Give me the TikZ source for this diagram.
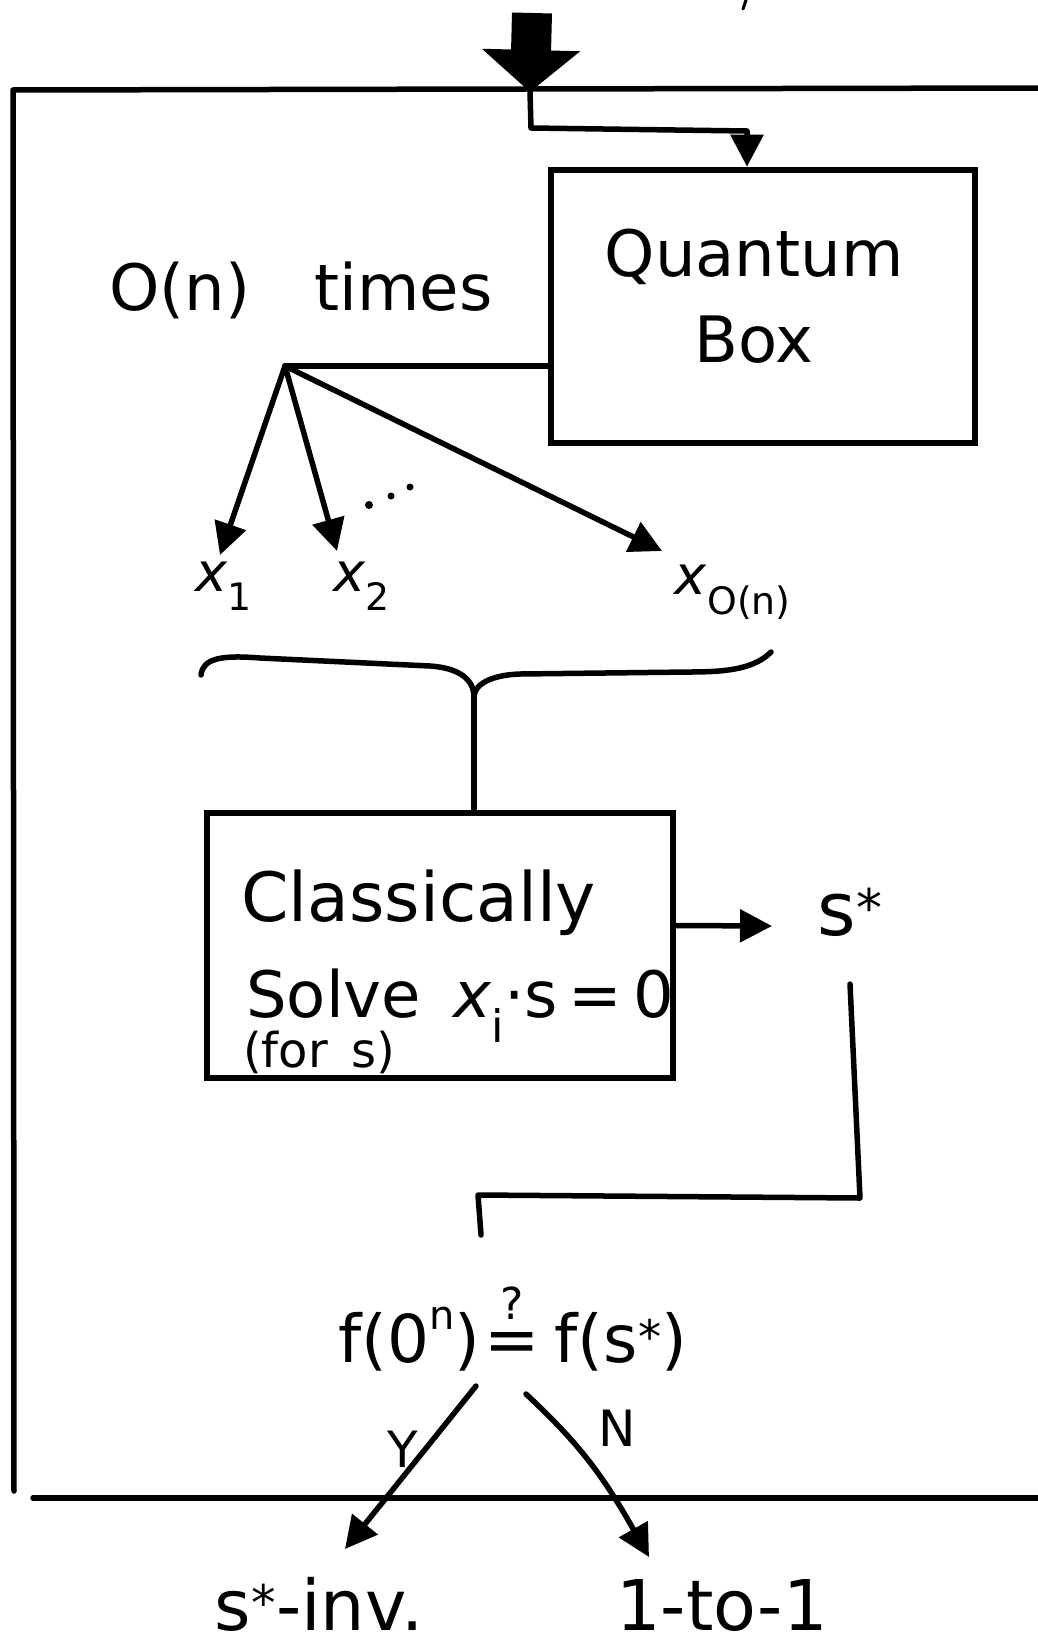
\documentclass[tikz,border=0pt]{standalone}
\usepackage{fontspec}
\setmainfont{DejaVu Sans}
\usetikzlibrary{arrows.meta}
\newcommand{\fsz}[1]{\fontsize{#1}{#1}\selectfont}
\newcommand{\qeq}{\makebox[0.62em]{=}\llap{\makebox[0.62em]{\raisebox{0.66em}{\fsz{44}?}}}}
\newcommand{\supn}{\raisebox{0.5em}{\fsz{40}n}}
\begin{document}
\begin{tikzpicture}[x=1pt,y=-1pt,
  ln/.style={line width=5.5pt, line cap=round, line join=round},
  arr/.style={ln, -{Triangle[length=32pt,width=32pt]}},
  boxx/.style={draw, line width=6.5pt, inner sep=0pt},
  lbl/.style={inner sep=0pt}]
\useasboundingbox (0,0) rectangle (1037,1640);
% incoming big arrow and frame
\coordinate (in) at (532,13);
\coordinate (junc) at (530,92);
\draw[line width=40pt, -{Triangle[length=42pt,width=96pt]}] (in) -- (junc);
\coordinate (ftr) at (1040,88);
\coordinate (ftl) at (13,90);
\coordinate (fbl) at (14,1491);
\draw[ln] (ftr) -- (ftl) -- (fbl);
\coordinate (bl) at (33,1498);
\coordinate (br) at (1040,1498);
\draw[ln] (bl) -- (br);
\draw[line width=3pt, line cap=round] (746,0) -- (743,9);
% quantum box
\node[boxx, minimum width=424pt, minimum height=273pt] (qbox) at (763,306.5) {};
\node[lbl, font=\fontsize{64}{86}\selectfont, align=center] (qtxt) at (754,296) {Quantum\\Box};
\draw[arr] (junc) -- (531,128) -- (747,131) -- (qbox.north -| 747,0);
% O(n) times
\node[lbl, font=\fsz{64}] (times) at (301,290) {O(n)\quad times};
% fan out
\coordinate (fan) at (285,366);
\draw[ln] (qbox.west |- fan) -- (fan);
\coordinate (t1) at (220,555);
\coordinate (t2) at (337,551);
\coordinate (t3) at (662,551);
\draw[arr] (fan) -- (t1);
\draw[arr] (fan) -- (t2);
\draw[arr] (fan) -- (t3);
\fill (369,505) circle (4pt);
\fill (391,496) circle (3.5pt);
\fill (410,487) circle (3.5pt);
\node[lbl, font=\fsz{54}] (x1) at (224,586) {\textit{x}\textsubscript{1}};
\node[lbl, font=\fsz{54}] (x2) at (362,586) {\textit{x}\textsubscript{2}};
\node[lbl, font=\fsz{54}] (x3) at (733,592) {\textit{x}\textsubscript{O(n)}};
% brace
\coordinate (bmid) at (474,697);
\draw[ln] (201,675) .. controls (203,658) and (222,655) .. (260,658) -- (430,666) .. controls (460,668) and (474,680) .. (bmid);
\draw[ln] (771,652) .. controls (755,668) and (730,672) .. (690,672) -- (520,674) .. controls (490,675) and (474,685) .. (bmid);
% classical box
\node[boxx, minimum width=466pt, minimum height=265pt] (cbox) at (440,945.5) {};
\draw[ln] (bmid) -- (cbox.north -| bmid);
\node[lbl, font=\fsz{68}, anchor=base west] (cl1) at (241,921) {Classically};
\node[lbl, font=\fsz{64}, anchor=base west] (cl2) at (246,1017) {Solve\enspace \textit{x}\textsubscript{i}·s\,=\,0};
\node[lbl, font=\fsz{48}, anchor=base west] (cl3) at (243,1067) {(for\enspace s)};
% s*
\node[lbl, font=\fsz{74}] (sstar) at (850,912) {s\textsuperscript{*}};
\coordinate (st) at (772,926);
\draw[arr] ([yshift=20pt]cbox.east) -- (st);
\coordinate (sl) at (850,984);
\coordinate (fend) at (481,1235);
\draw[ln] (sl) -- (860,1198) -- (478,1195) -- (fend);
% comparison
\node[lbl, font=\fsz{66}] (cmp) at (513,1329) {f(0\supn)\,\qeq\,\,f(s\textsuperscript{*})};
\coordinate (ys) at (476,1386);
\coordinate (yt) at (345,1549);
\coordinate (ns) at (526,1394);
\coordinate (nt) at (649,1557);
\draw[arr] (ys) -- (yt);
\draw[arr] (ns) .. controls (575,1440) and (600,1470) .. (nt);
\node[lbl, font=\fsz{50}] (ylab) at (403,1449) {Y};
\node[lbl, font=\fsz{50}] (nlab) at (617,1428) {N};
% results
\node[lbl, font=\fsz{70}, anchor=base] (inv) at (319,1630) {s\textsuperscript{*}-inv.};
\node[lbl, font=\fsz{70}, anchor=base] (one) at (722,1630) {1-to-1};
\end{tikzpicture}
\end{document}
